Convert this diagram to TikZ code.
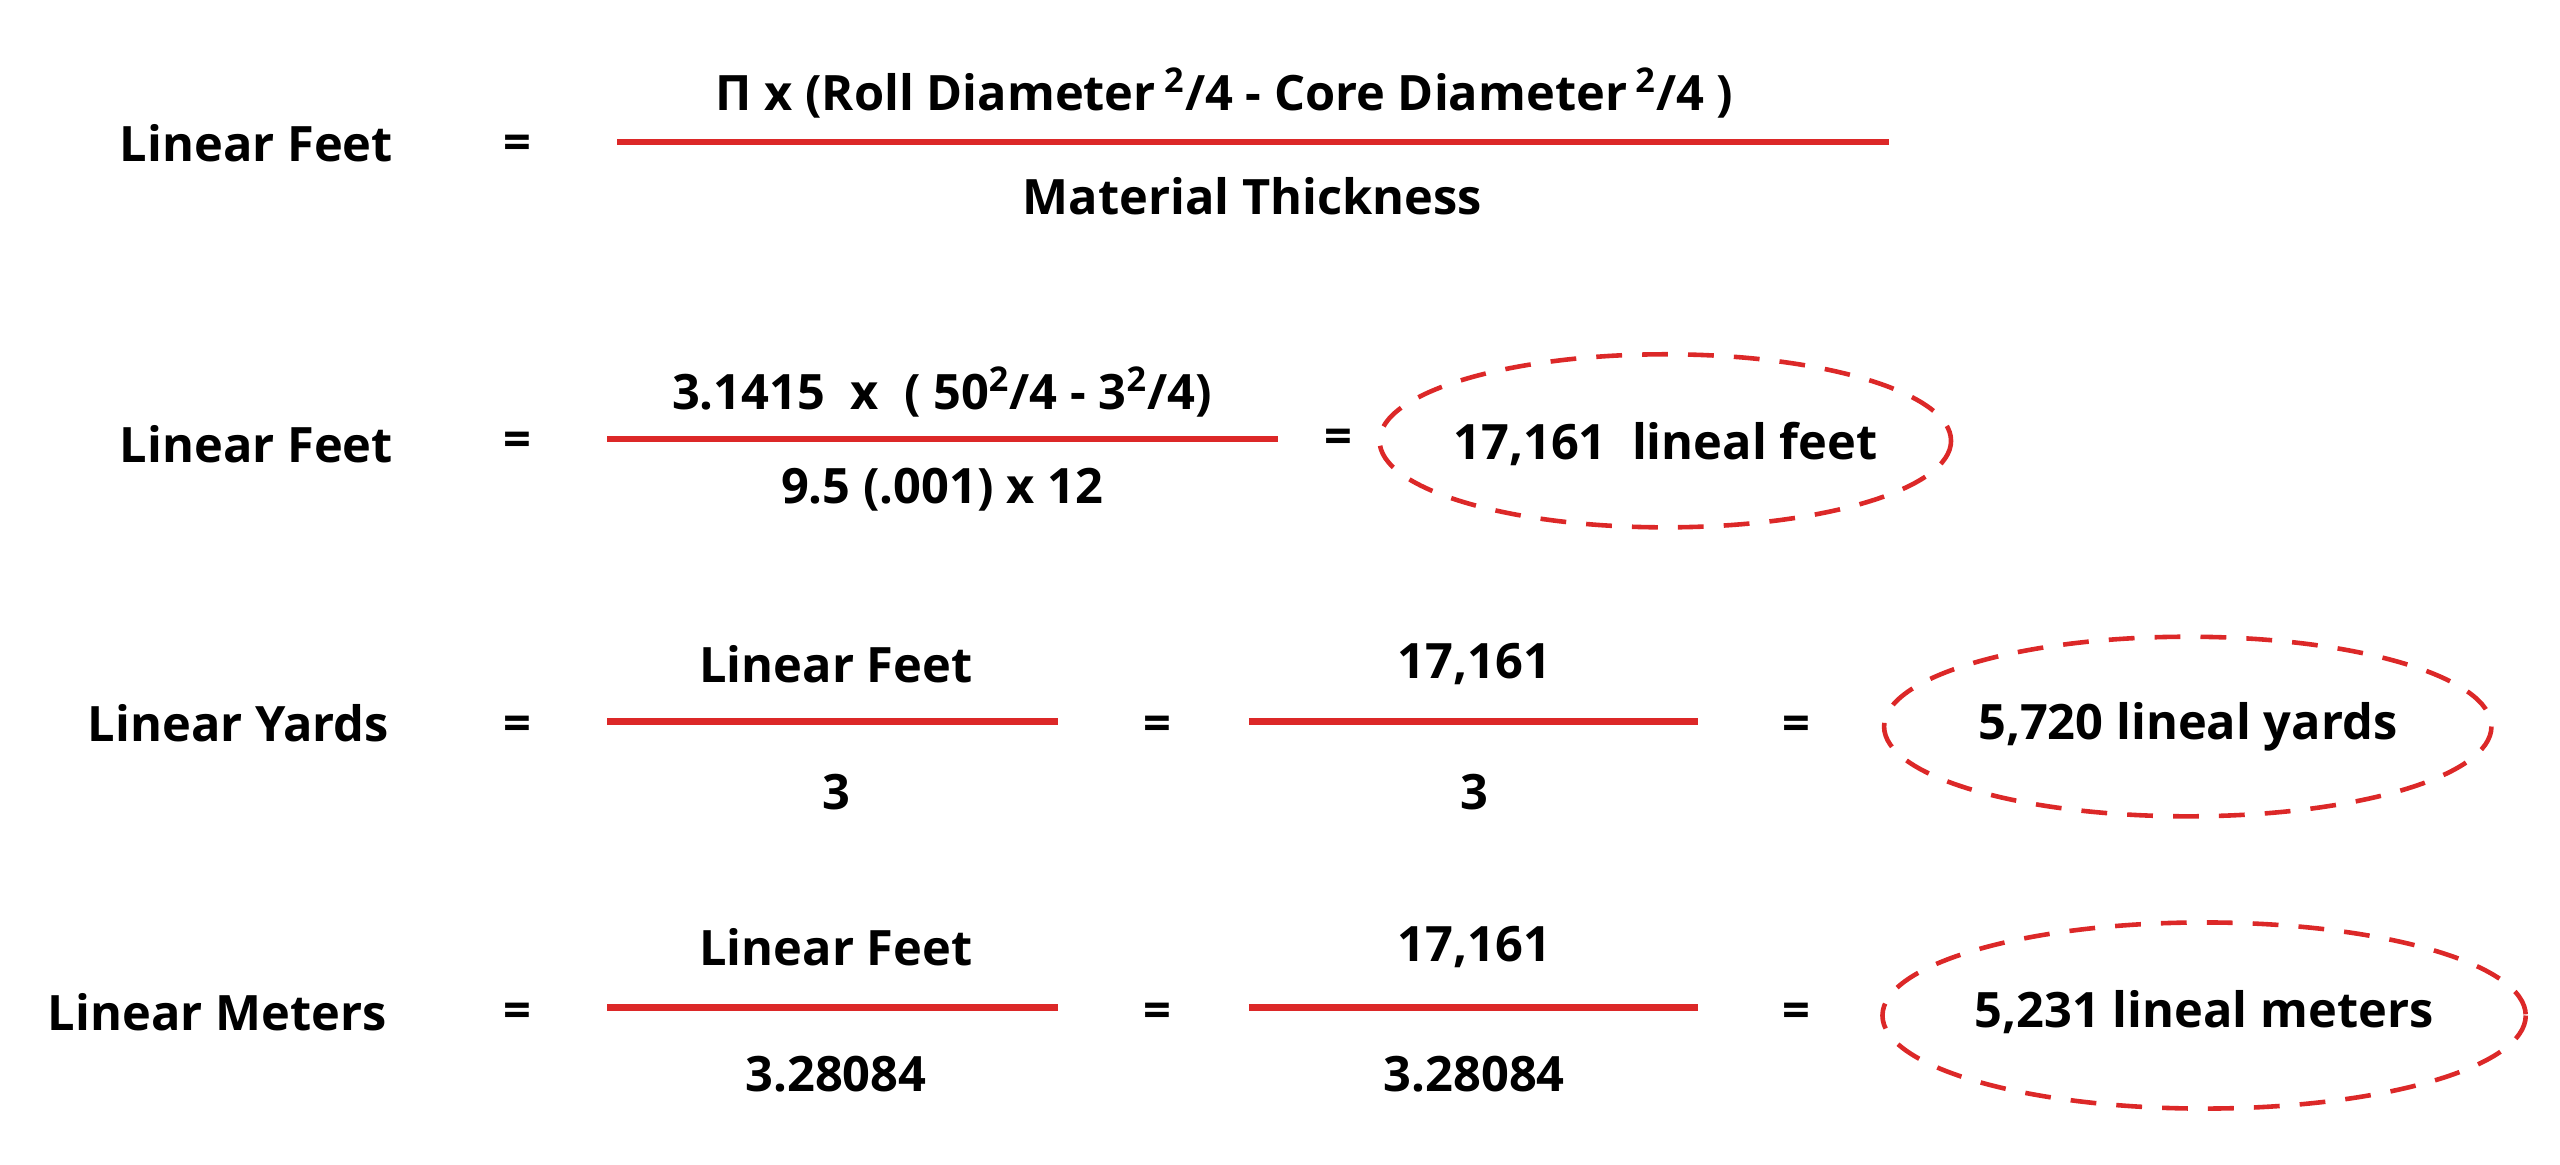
\documentclass[tikz,border=0pt]{standalone}
\usepackage{fontspec}
\setmainfont{Open Sans}
\definecolor{myred}{RGB}{220,40,40}
\begin{document}
\begin{tikzpicture}[x=0.02cm,y=-0.02cm,
  t/.style={font=\bfseries\fontsize{17}{20}\selectfont, inner sep=0pt},
  fr/.style={draw=myred, line width=2.2pt},
  ov/.style={draw=myred, dashed, dash pattern=on 9pt off 7pt, line width=1.6pt, ellipse/.try}]
\useasboundingbox (0,0) rectangle (1568,713);
% Row 1
\node[t] (a1) at (157,88) {Linear Feet};
\node[t] (e1) at (317,90) {=};
\node[t] (n1) at (750,57) {Π x (Roll Diameter\,\textsuperscript{2}/4 - Core Diameter\,\textsuperscript{2}/4 )};
\coordinate (l1a) at (378,87); \coordinate (l1b) at (1157,87);
\draw[fr] (l1a) -- (l1b);
\node[t] (d1) at (767,120) {Material Thickness};
% Row 2
\node[t] (a2) at (157,272) {Linear Feet};
\node[t] (e2) at (317,272) {=};
\node[t] (n2) at (577,240) {3.1415\ \ x\ \ ( 50\textsuperscript{2}/4 - 3\textsuperscript{2}/4)};
\coordinate (l2a) at (372,269); \coordinate (l2b) at (783,269);
\draw[fr] (l2a) -- (l2b);
\node[t] (d2) at (577,300) {9.5 (.001) x 12};
\node[t] (f2) at (820,270) {=};
\node[t] (r2) at (1020,272) {17,161\ \ lineal feet};
\draw[ov] (1020,270) ellipse [x radius=175, y radius=53];
% Row 3
\node[t] (a3) at (146,443) {Linear Yards};
\node[t] (e3) at (317,446) {=};
\node[t] (n3) at (512,407) {Linear Feet};
\coordinate (l3a) at (372,442); \coordinate (l3b) at (648,442);
\draw[fr] (l3a) -- (l3b);
\node[t] (d3) at (512,485) {3};
\node[t] (f3) at (709,446) {=};
\node[t] (m3) at (903,407) {17,161};
\coordinate (l3c) at (765,442); \coordinate (l3d) at (1040,442);
\draw[fr] (l3c) -- (l3d);
\node[t] (k3) at (903,485) {3};
\node[t] (g3) at (1100,446) {=};
\node[t] (r3) at (1340,445) {5,720 lineal yards};
\draw[ov] (1340,445) ellipse [x radius=186, y radius=55];
% Row 4
\node[t] (a4) at (133,620) {Linear Meters};
\node[t] (e4) at (317,622) {=};
\node[t] (n4) at (512,580) {Linear Feet};
\coordinate (l4a) at (372,617); \coordinate (l4b) at (648,617);
\draw[fr] (l4a) -- (l4b);
\node[t] (d4) at (512,658) {3.28084};
\node[t] (f4) at (709,622) {=};
\node[t] (m4) at (903,580) {17,161};
\coordinate (l4c) at (765,617); \coordinate (l4d) at (1040,617);
\draw[fr] (l4c) -- (l4d);
\node[t] (k4) at (903,658) {3.28084};
\node[t] (g4) at (1100,622) {=};
\node[t] (r4) at (1350,620) {5,231 lineal meters};
\draw[ov] (1350,622) ellipse [x radius=197, y radius=57];
\end{tikzpicture}
\end{document}
